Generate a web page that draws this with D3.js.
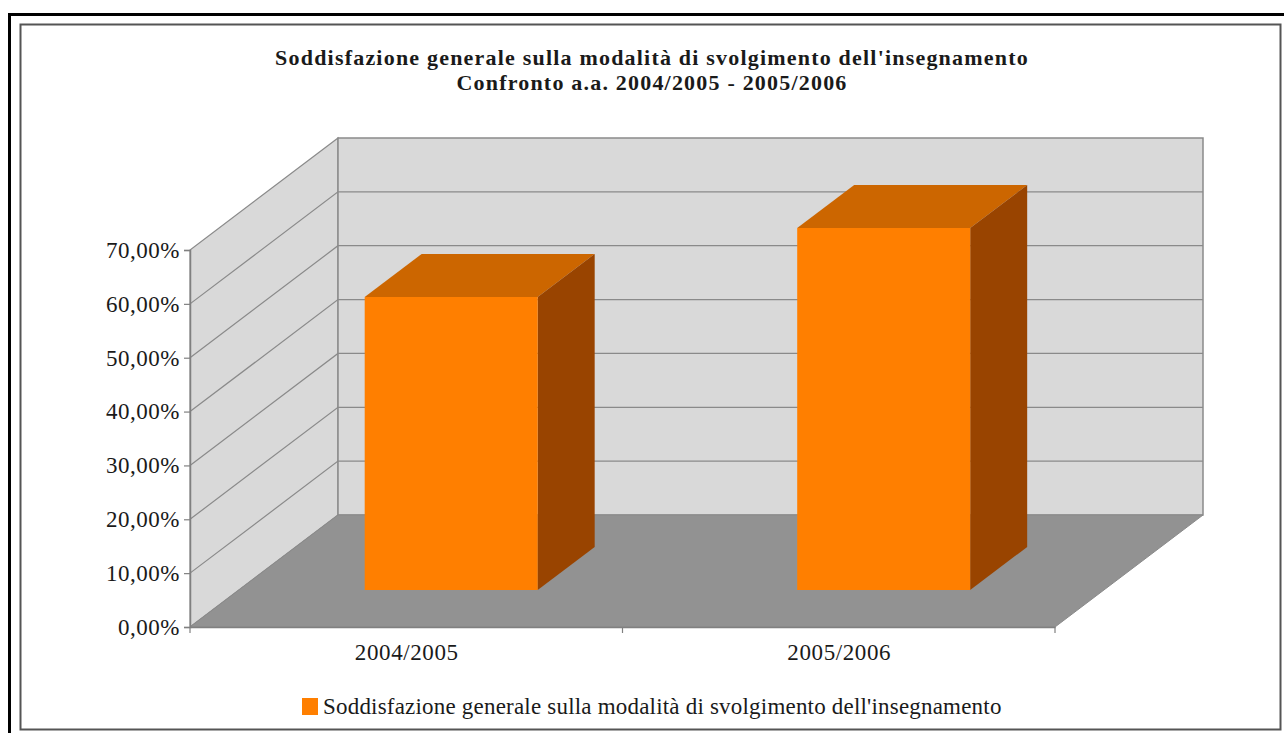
<!DOCTYPE html>
<html>
  <head>
    <meta charset="utf-8">
    <title>Soddisfazione generale</title>
    <script src="https://d3js.org/d3.v7.min.js"></script>
    <style>
      body { margin: 0; background: #fff; }
      svg text { font-family: "Liberation Serif", "DejaVu Serif", serif; fill: #1a1a1a; }
    </style>
  </head>
  <body>
    <div id="chartDiv"></div>
    <script>
      // data
      var categories = ["2004/2005", "2005/2006"];
      var values = [54.4, 67.2];
      var yTicks = [0, 10, 20, 30, 40, 50, 60, 70];
      var seriesName = "Soddisfazione generale sulla modalità di svolgimento dell'insegnamento";
      var titleLines = ["Soddisfazione generale sulla modalità di svolgimento dell'insegnamento",
                        "Confronto a.a. 2004/2005 - 2005/2006"];

      var W = 1284, H = 733;
      // oblique depth of the 3d box
      var depthX = 148, depthY = 112;
      var barZ = [0.33, 0.715];

      var svg = d3.select('#chartDiv')
        .append('svg')
        .attr('width', W)
        .attr('height', H);

      // frames
      svg.append('rect')
        .attr('x', 9.5).attr('y', 14.5)
        .attr('width', 1300).attr('height', 740)
        .attr('fill', 'none').attr('stroke', '#000').attr('stroke-width', 3);
      svg.append('rect')
        .attr('x', 20.5).attr('y', 24.5)
        .attr('width', 1260).attr('height', 705)
        .attr('fill', '#fff').attr('stroke', '#555').attr('stroke-width', 2);

      // scales
      var x = d3.scaleBand()
        .domain(categories)
        .range([190, 1055])
        .paddingInner(0.6)
        .paddingOuter(0.3)
        .align(0.485);

      var y = d3.scaleLinear()
        .domain([0, 70])
        .range([627, 250]);

      function px(xv, z) { return xv + z * depthX; }
      function py(yv, z) { return yv - z * depthY; }
      function pts(arr) { return arr.map(function(p){ return p.join(','); }).join(' '); }

      var x0 = x.range()[0], x1 = x.range()[1];
      var yMin = y(0), yMax = y(70);

      // side wall
      svg.append('polygon')
        .attr('points', pts([[px(x0,0), yMin], [px(x0,0), yMax], [px(x0,1), py(yMax,1)], [px(x0,1), py(yMin,1)]]))
        .attr('fill', '#d9d9d9').attr('stroke', '#8a8a8a').attr('stroke-width', 1.2);

      // back wall
      svg.append('polygon')
        .attr('points', pts([[px(x0,1), py(yMin,1)], [px(x0,1), py(yMax,1)], [px(x1,1), py(yMax,1)], [px(x1,1), py(yMin,1)]]))
        .attr('fill', '#d9d9d9').attr('stroke', '#8a8a8a').attr('stroke-width', 1.5);

      // gridlines on both walls
      svg.append('g').selectAll('polyline')
        .data(yTicks.slice(1, -1))
        .enter().append('polyline')
        .attr('points', function(d) {
          return pts([[px(x0,0), y(d)], [px(x0,1), py(y(d),1)], [px(x1,1), py(y(d),1)]]);
        })
        .attr('fill', 'none').attr('stroke', '#8a8a8a').attr('stroke-width', 1.2);

      // floor
      svg.append('polygon')
        .attr('points', pts([[px(x0,0), yMin], [px(x1,0), yMin], [px(x1,1), py(yMin,1)], [px(x0,1), py(yMin,1)]]))
        .attr('fill', '#929292').attr('stroke', '#8a8a8a').attr('stroke-width', 1);

      // bars
      var bars = svg.append('g').selectAll('g')
        .data(values)
        .enter().append('g');

      bars.append('polygon') // top
        .attr('points', function(d, i) {
          var a = x(categories[i]), b = a + x.bandwidth(), t = y(d);
          return pts([[px(a,barZ[0]), py(t,barZ[0])], [px(b,barZ[0]), py(t,barZ[0])],
                      [px(b,barZ[1]), py(t,barZ[1])], [px(a,barZ[1]), py(t,barZ[1])]]);
        })
        .attr('fill', '#cc6600');

      bars.append('polygon') // side
        .attr('points', function(d, i) {
          var b = x(categories[i]) + x.bandwidth(), t = y(d);
          return pts([[px(b,barZ[0]), py(t,barZ[0])], [px(b,barZ[1]), py(t,barZ[1])],
                      [px(b,barZ[1]), py(yMin,barZ[1])], [px(b,barZ[0]), py(yMin,barZ[0])]]);
        })
        .attr('fill', '#994400');

      bars.append('polygon') // front
        .attr('points', function(d, i) {
          var a = x(categories[i]), b = a + x.bandwidth(), t = y(d);
          return pts([[px(a,barZ[0]), py(t,barZ[0])], [px(b,barZ[0]), py(t,barZ[0])],
                      [px(b,barZ[0]), py(yMin,barZ[0])], [px(a,barZ[0]), py(yMin,barZ[0])]]);
        })
        .attr('fill', '#ff7f00');

      // y axis
      var yAxis = d3.axisLeft(y)
        .tickValues(yTicks)
        .tickSize(6)
        .tickPadding(4)
        .tickFormat(function(d) { return d3.format('.2f')(d).replace('.', ',') + '%'; });

      var gy = svg.append('g')
        .attr('transform', 'translate(' + x0 + ',0)')
        .call(yAxis);
      gy.select('.domain').attr('stroke', '#808080').attr('stroke-width', 1.5);
      gy.selectAll('.tick line').attr('stroke', '#808080').attr('stroke-width', 1.2);
      gy.selectAll('.tick text')
        .style('font-size', '23px')
        .style('letter-spacing', '0.5px')
        .attr('fill', '#1a1a1a');

      // x axis
      var xAxis = d3.axisBottom(d3.scalePoint().domain(categories).range([x0, x1]).padding(0.5))
        .tickSize(0)
        .tickPadding(17);

      var gx = svg.append('g')
        .attr('transform', 'translate(0,' + yMin + ')')
        .call(xAxis);
      gx.select('.domain').attr('stroke', '#808080').attr('stroke-width', 1.5);
      gx.selectAll('.tick text')
        .style('font-size', '23px')
        .style('letter-spacing', '0.6px')
        .attr('fill', '#1a1a1a');
      // category separators
      gx.selectAll('.sep')
        .data([x0, (x0 + x1) / 2, x1])
        .enter().append('line')
        .attr('x1', function(d){ return d; }).attr('x2', function(d){ return d; })
        .attr('y1', 0).attr('y2', 6)
        .attr('stroke', '#808080').attr('stroke-width', 1.2);

      // title
      svg.append('g').selectAll('text')
        .data(titleLines)
        .enter().append('text')
        .attr('x', 652)
        .attr('y', function(d, i) { return 65 + i * 25; })
        .attr('text-anchor', 'middle')
        .style('font-size', '22px')
        .style('letter-spacing', '1.2px')
        .style('font-weight', 'bold')
        .text(function(d) { return d; });

      // legend
      svg.append('rect')
        .attr('x', 302).attr('y', 698)
        .attr('width', 16).attr('height', 17)
        .attr('fill', '#ff7f00');
      svg.append('text')
        .attr('x', 323).attr('y', 714)
        .style('font-size', '23px')
        .style('letter-spacing', '0.2px')
        .text(seriesName);
    </script>
  </body>
</html>
